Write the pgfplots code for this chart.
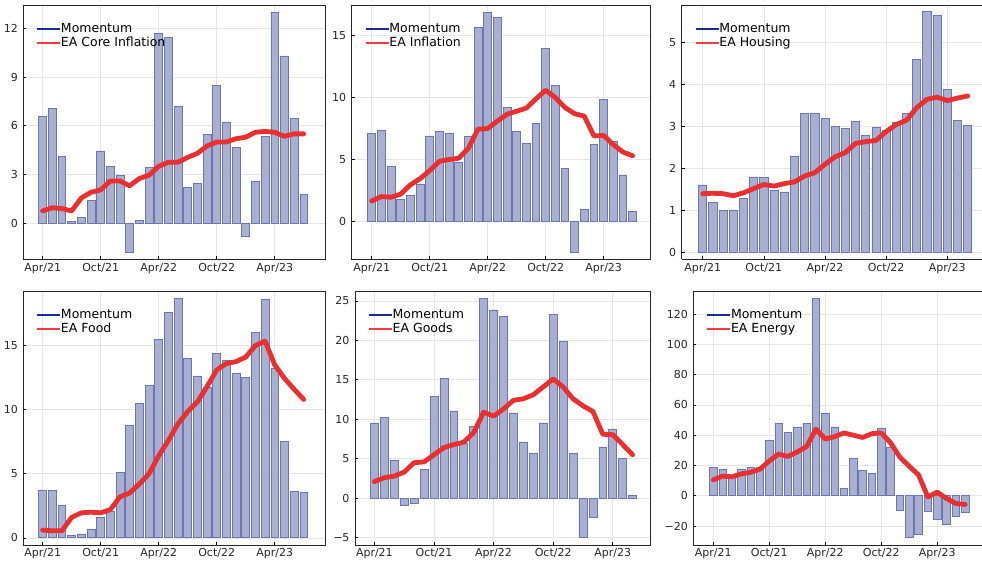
\documentclass[border=0pt]{standalone}
\usepackage{fontspec}
\setmainfont{DejaVu Sans}
\usepackage{pgfplots}
\usepackage{pgfplotstable}
\pgfplotsset{compat=1.18}

\definecolor{barfill}{RGB}{168,175,208}
\definecolor{baredge}{RGB}{108,118,176}
\definecolor{momline}{RGB}{30,40,150}
\definecolor{ealine}{RGB}{232,48,48}
\definecolor{legred}{RGB}{245,60,60}
\definecolor{gridc}{RGB}{230,230,230}

% x = months since Apr/21, mom = momentum bar, ea = headline rate
\pgfplotstableread{
x mom ea
0 6.6 0.75
1 7.05 0.95
2 4.1 0.9
3 0.08 0.75
4 0.35 1.55
5 1.4 1.9
6 4.45 2.05
7 3.5 2.6
8 2.95 2.6
9 -1.8 2.3
10 0.15 2.75
11 3.45 2.95
12 11.7 3.5
13 11.45 3.75
14 7.2 3.75
15 2.2 4.05
16 2.45 4.3
17 5.45 4.75
18 8.5 5.0
19 6.2 5.0
20 4.65 5.2
21 -0.8 5.3
22 2.6 5.6
23 5.35 5.65
24 13.0 5.6
25 10.3 5.35
26 6.45 5.5
27 1.8 5.5
}\core

\pgfplotstableread{
x mom ea
0 7.1 1.65
1 7.35 2.0
2 4.45 1.95
3 1.75 2.2
4 2.1 2.95
5 3.0 3.45
6 6.9 4.1
7 7.3 4.85
8 7.1 5.0
9 4.8 5.1
10 6.85 5.9
11 15.7 7.45
12 16.9 7.5
13 16.45 8.1
14 9.2 8.65
15 7.25 8.9
16 6.3 9.15
17 7.9 9.9
18 14.0 10.6
19 10.95 10.0
20 4.3 9.2
21 -2.5 8.7
22 1.0 8.5
23 6.2 6.9
24 9.85 6.95
25 6.45 6.2
26 3.75 5.6
27 0.8 5.3
}\headline

\pgfplotstableread{
x mom ea
0 1.61 1.4
1 1.2 1.41
2 1.01 1.4
3 1.01 1.35
4 1.28 1.42
5 1.79 1.52
6 1.79 1.62
7 1.49 1.58
8 1.44 1.64
9 2.3 1.68
10 3.32 1.82
11 3.32 1.9
12 3.19 2.1
13 3.0 2.28
14 2.95 2.38
15 3.12 2.6
16 2.79 2.64
17 2.97 2.67
18 2.9 2.88
19 3.09 3.05
20 3.32 3.15
21 4.6 3.45
22 5.74 3.65
23 5.66 3.7
24 3.88 3.62
25 3.14 3.68
26 3.02 3.73
}\housing

\pgfplotstableread{
x mom ea
0 3.74 0.6
1 3.69 0.55
2 2.52 0.55
3 0.16 1.6
4 0.31 1.95
5 0.7 2.0
6 1.56 1.95
7 2.1 2.2
8 5.1 3.2
9 8.79 3.5
10 10.5 4.2
11 11.9 5.0
12 15.5 6.4
13 17.6 7.6
14 18.7 8.9
15 13.98 9.85
16 12.63 10.6
17 11.75 11.8
18 14.4 13.1
19 13.88 13.6
20 12.87 13.75
21 12.5 14.1
22 16.04 15.0
23 18.64 15.35
24 13.2 13.5
25 7.51 12.45
26 3.61 11.6
27 3.51 10.8
}\food

\pgfplotstableread{
x mom ea
0 9.49 2.1
1 10.2 2.6
2 4.76 2.8
3 -0.89 3.3
4 -0.63 4.5
5 3.63 4.6
6 12.94 5.5
7 15.22 6.4
8 11.05 6.8
9 7.0 7.1
10 9.1 8.3
11 25.34 10.9
12 23.86 10.4
13 23.0 11.3
14 10.8 12.4
15 7.12 12.6
16 5.65 13.1
17 9.53 14.1
18 23.3 15.1
19 19.9 14.1
20 5.73 12.6
21 -5.02 11.7
22 -2.4 11.0
23 6.49 8.1
24 8.77 8.05
25 5.06 6.8
26 0.3 5.5
}\goods

\pgfplotstableread{
x mom ea
0 18.5 10.5
1 17.6 13
2 12.5 12.5
3 17.6 14.5
4 18.5 15.5
5 19 17.5
6 36.7 23
7 47.7 27.5
8 41.8 26
9 45.05 29
10 47.7 32.5
11 130.5 44
12 54.1 37.5
13 45.5 39
14 4.8 41.5
15 24.8 40
16 16.9 38.5
17 14.9 41
18 44.4 41.5
19 32.3 35
20 -9.9 25.5
21 -27.7 19.5
22 -25.3 13.8
23 -10.5 -0.8
24 -15.6 2.4
25 -19.1 -1.8
26 -13.6 -5.1
27 -11.2 -5.7
}\energy

\pgfplotsset{
  panel/.style={
    scale only axis, anchor=south west,
    tick align=inside, tick pos=left, major tick length=3pt,
    tick style={black, line width=0.6pt},
    axis line style={black!85, line width=0.9pt},
    grid=major, grid style={gridc, line width=0.6pt},
    xtick={0,6,12,18,24},
    xticklabels={Apr/21,Oct/21,Apr/22,Oct/22,Apr/23},
    tick label style={font=\fontsize{11}{13}\selectfont, text=black!85},
    yticklabel style={xshift=-2pt},
    legend style={at={(0,1)}, anchor=north west, xshift=13pt, yshift=-17pt,
                  draw=none, fill=none, inner sep=0pt, row sep=0pt,
                  font=\fontsize{12.5}{14}\selectfont,
                  nodes={inner sep=0pt, text height=10pt, text depth=4pt}},
    legend cell align=left,
  },
  % right column is cut at the page edge: no right spine
  cut/.style={axis x line*=box, axis y line*=left, tick pos=left},
  bars/.style={ybar, bar width=0.8, fill=barfill, draw=baredge, line width=0.7pt, forget plot},
  rate/.style={ealine, line width=4.8pt, line join=round, line cap=round, forget plot},
}

% legend swatches are plain short lines, coloured as in the reference
\newcommand\legendpair[1]{%
  \addlegendimage{legend image code/.code={\draw[momline, line width=1.5pt] (0pt,0pt) -- (23pt,0pt);}}
  \addlegendentry{Momentum}
  \addlegendimage{legend image code/.code={\draw[legred, line width=1.5pt] (0pt,0pt) -- (23pt,0pt);}}
  \addlegendentry{#1}}

\begin{document}
\begin{tikzpicture}
\useasboundingbox (0,0) rectangle (982pt,563pt);

\begin{axis}[panel, at={(23.3pt,303.5pt)}, width=301.7pt, height=254.5pt,
  xmin=-2.0, xmax=29.2, ymin=-2.24, ymax=13.44,
  ytick={0,3,6,9,12}, yticklabels={0,3,6,9,12}]
  \addplot[bars] table[x=x, y=mom] {\core};
  \addplot[rate] table[x=x, y=ea] {\core};
  \legendpair{EA Core Inflation}
\end{axis}

\begin{axis}[panel, at={(351.7pt,303.5pt)}, width=298.3pt, height=254.5pt,
  xmin=-2.07, xmax=28.8, ymin=-3.08, ymax=17.48,
  ytick={0,5,10,15}, yticklabels={0,5,10,15}]
  \addplot[bars] table[x=x, y=mom] {\headline};
  \addplot[rate] table[x=x, y=ea] {\headline};
  \legendpair{EA Inflation}
\end{axis}

\begin{axis}[panel, cut, at={(681.7pt,303.5pt)}, width=300.3pt, height=254.5pt,
  xmin=-2.06, xmax=27.41, ymin=-0.17, ymax=5.9,
  ytick={0,1,2,3,4,5}, yticklabels={0,1,2,3,4,5}]
  \addplot[bars] table[x=x, y=mom] {\housing};
  \addplot[rate] table[x=x, y=ea] {\housing};
  \legendpair{EA Housing}
\end{axis}

\begin{axis}[panel, at={(23.3pt,18pt)}, width=301.7pt, height=254pt,
  xmin=-2.0, xmax=29.2, ymin=-0.56, ymax=19.26,
  ytick={0,5,10,15}, yticklabels={0,5,10,15}]
  \addplot[bars] table[x=x, y=mom] {\food};
  \addplot[rate] table[x=x, y=ea] {\food};
  \legendpair{EA Food}
\end{axis}

\begin{axis}[panel, at={(355pt,18pt)}, width=295pt, height=254pt,
  xmin=-1.95, xmax=27.75, ymin=-5.93, ymax=26.25,
  ytick={-5,0,5,10,15,20,25}, yticklabels={−5,0,5,10,15,20,25}]
  \addplot[bars] table[x=x, y=mom] {\goods};
  \addplot[rate] table[x=x, y=ea] {\goods};
  \legendpair{EA Goods}
\end{axis}

\begin{axis}[panel, cut, at={(693.3pt,18pt)}, width=288.7pt, height=254pt,
  xmin=-2.14, xmax=28.8, ymin=-32.5, ymax=135.2,
  ytick={-20,0,20,40,60,80,100,120}, yticklabels={−20,0,20,40,60,80,100,120}]
  \addplot[bars] table[x=x, y=mom] {\energy};
  \addplot[rate] table[x=x, y=ea] {\energy};
  \legendpair{EA Energy}
\end{axis}
\end{tikzpicture}
\end{document}
